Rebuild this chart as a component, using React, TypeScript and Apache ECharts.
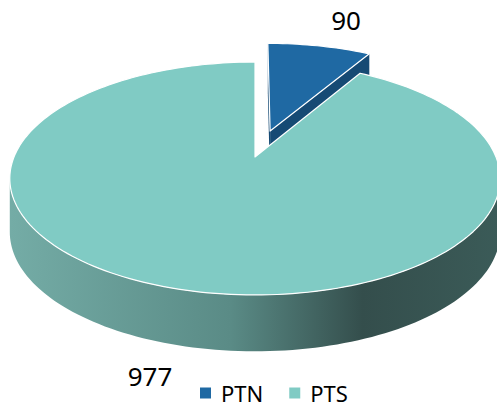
import React, { useEffect, useRef } from 'react';
import * as echarts from 'echarts';

const categories = ['PTN', 'PTS'];
const values = [90, 977];
const topColors = ['#1f69a3', '#80cbc4'];
const explodeBy = [0.25, 0];

// projection of the tilted pie (world unit circle -> screen)
const CX = 255, CY = 157, SX = 241, SY = 112.5, K = 0.1845, H = 53;

function proj(X: number, Y: number, bottom: boolean): number[] {
  const w = 1 + K * Y;
  return [CX + (SX * X) / w, CY - (SY * Y) / w + (bottom ? H / Math.pow(w, 0.3) : 0)];
}

function cross(a: number[], b: number[], c: number[]) {
  const ux = b[0] - a[0], uy = b[1] - a[1];
  const vx = c[0] - b[0], vy = c[1] - b[1];
  return ux * vy - uy * vx;
}

export default function App() {
  const ref = useRef<HTMLDivElement>(null);
  useEffect(() => {
    if (!ref.current) return;
    const chart = echarts.init(ref.current, undefined, { renderer: 'svg' });
    const total = values.reduce((a, b) => a + b, 0);
    const sideGrad = new echarts.graphic.LinearGradient(
      10, 0, 500, 0,
      [
        { offset: 0, color: '#74aca6' },
        { offset: 0.45, color: '#5a8b86' },
        { offset: 0.72, color: '#344e4c' },
        { offset: 1, color: '#3b5b58' },
      ],
      true
    );
    const sideColors: any[] = ['#164a74', sideGrad];

    const renderItem = (params: any) => {
      const i = params.seriesIndex;
      let start = 0;
      for (let j = 0; j < i; j++) start += (values[j] / total) * 360;
      const end = start + (values[i] / total) * 360;
      const midDeg = (start + end) / 2;
      const mid = (midDeg * Math.PI) / 180;
      const ox = explodeBy[i] * Math.sin(mid);
      const oy = explodeBy[i] * Math.cos(mid);
      const N = Math.max(6, Math.ceil((end - start) / 1.5));
      const T: number[][] = [];
      const B: number[][] = [];
      for (let j = 0; j <= N; j++) {
        const a = ((start + ((end - start) * j) / N) * Math.PI) / 180;
        const X = ox + Math.sin(a), Y = oy + Math.cos(a);
        T.push(proj(X, Y, false));
        B.push(proj(X, Y, true));
      }
      const cT = proj(ox, oy, false);
      const cB = proj(ox, oy, true);
      const children: any[] = [];
      // radial cut faces
      if (cross(cT, T[0], B[0]) < -1) {
        children.push({ type: 'polygon', shape: { points: [cT, T[0], B[0], cB] }, style: { fill: sideColors[i] } });
      }
      if (cross(cT, T[N], B[N]) > 1) {
        children.push({ type: 'polygon', shape: { points: [cT, T[N], B[N], cB] }, style: { fill: sideColors[i] } });
      }
      // outer curved side, visible runs
      let run: number[] = [];
      const flush = () => {
        if (run.length >= 2) {
          const pts = run.map((j) => T[j]).concat(run.slice().reverse().map((j) => B[j]));
          children.push({ type: 'polygon', shape: { points: pts }, style: { fill: sideColors[i] } });
        }
        run = [];
      };
      for (let j = 0; j < N; j++) {
        const vis = cross(T[j], T[j + 1], B[j + 1]) < 0;
        if (vis) {
          if (run.length === 0) run.push(j);
          run.push(j + 1);
        } else flush();
      }
      flush();
      // top face
      children.push({
        type: 'polygon',
        shape: { points: [cT].concat(T) },
        style: { fill: topColors[i], stroke: '#ffffff', lineWidth: 1.2, lineJoin: 'round' },
      });
      // data label
      const front = Math.cos(mid) < 0;
      const rim = proj(ox + Math.sin(mid), oy + Math.cos(mid), front);
      let dx = Math.sin(mid), dy = -Math.cos(mid) * 0.3;
      const len = Math.sqrt(dx * dx + dy * dy) || 1;
      dx /= len; dy /= len;
      const dist = front ? 42 : 35;
      children.push({
        type: 'text',
        style: {
          text: String(values[i]),
          x: rim[0] + dx * dist + (front ? 0 : 3),
          y: rim[1] + dy * dist,
          fill: '#000000',
          font: '26px "Noto Sans", sans-serif',
          align: 'center',
          verticalAlign: 'middle',
        },
      });
      return { type: 'group', children };
    };

    chart.setOption({
      animation: false,
      backgroundColor: '#ffffff',
      legend: {
        data: categories,
        left: 195,
        top: 377,
        icon: 'rect',
        itemWidth: 11,
        itemHeight: 11,
        itemGap: 26,
        textStyle: { fontSize: 22, fontFamily: 'Noto Sans', color: '#000000', padding: [0, 0, 0, 5] },
      },
      series: categories.map((name, i) => ({
        type: 'custom',
        name,
        coordinateSystem: 'none',
        silent: true,
        itemStyle: { color: topColors[i] },
        data: [values[i]],
        renderItem,
      })),
    });
    return () => chart.dispose();
  }, []);
  return <div ref={ref} style={{ position: 'absolute', left: 0, top: 0, width: 497, height: 408 }} />;
}
